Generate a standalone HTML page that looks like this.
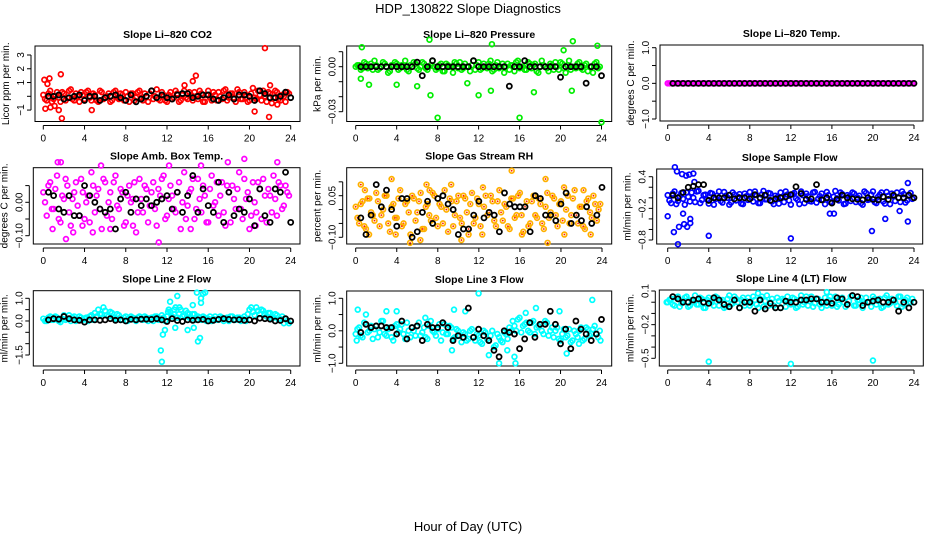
<!DOCTYPE html>
<html><head><meta charset="utf-8"><style>
body{margin:0;background:#fff}
svg{display:block;font-family:"Liberation Sans",sans-serif}
</style></head><body>
<svg id="chart" width="936" height="540" viewBox="0 0 936 540" xmlns="http://www.w3.org/2000/svg">
<text x="468" y="13" font-size="13" text-anchor="middle">HDP_130822  Slope Diagnostics</text>
<text x="468" y="531" font-size="13" text-anchor="middle">Hour of Day (UTC)</text>
</svg>
<script>
// ---- data (values per panel) ----
const co2Band=[0.1,-0.3,0.4,-0.2,0.3,-0.4,0.2,-0.1,0.5,-0.3,0.0,0.3,-0.2,0.4,-0.3,0.1,-0.4,0.3,-0.1,0.2,-0.3,0.4,-0.2,0.1,0.3,-0.4,0.2,-0.1,0.4,-0.3,0.0,0.2,-0.2,0.5,-0.3,0.1,-0.4,0.3,-0.1,0.2,-0.3,0.4,-0.2,0.1,0.3,-0.2,0.2,-0.4,0.4,-0.3,0.1,0.3,-0.2,0.5,-0.1,0.2,-0.4,0.3,-0.2,0.1,-0.3,0.6,-0.2,0.1,0.4,-0.4,0.2,-0.1,0.3,-0.3,0.0,0.3];
const co2BandB=[-0.2,0.2,-0.4,0.0,-0.1,0.3,-0.3,0.4,-0.2,0.2,-0.4,0.1,0.3,-0.1,0.2,-0.3,0.4,-0.2,0.0,-0.4,0.3,-0.1,0.2,-0.3,0.0,0.2,-0.3,0.3,-0.1,0.2,-0.4,0.4,0.0,-0.2,0.3,-0.3,0.1,-0.2,0.4,-0.4,0.1,-0.1,0.3,-0.3,0.0,0.4,-0.4,0.1,-0.1,0.3,-0.3,0.0,0.4,-0.3,0.2,-0.1,0.5,-0.2,0.3,-0.4,0.2,-0.1,0.4,-0.3,0.0,0.3,-0.5,0.4,-0.2,0.1,-0.4,0.2];
const co2Out=[[0.1,1.2],[0.2,-0.9],[0.6,1.3],[0.7,-0.8],[1.5,-1.0],[1.7,1.6],[1.8,-1.6],[4.7,-1.0],[13.7,0.8],[14.5,1.1],[14.8,1.5],[21.5,3.5],[21.9,-1.5],[20.5,-1.1],[22.0,0.8],[22.7,-0.6],[0.4,0.9],[1.1,-0.7]];
const co2Black=[0.0,0.0,0.1,-0.2,-0.1,0.0,0.1,-0.3,0.0,0.0,-0.3,-0.1,0.0,0.1,-0.1,-0.3,0.1,-0.4,-0.2,0.0,0.4,-0.1,0.1,-0.1,-0.2,0.1,0.2,0.2,-0.1,0.0,0.1,0.1,-0.2,-0.3,-0.1,0.1,-0.2,0.1,0.1,0.0,-0.3,0.4,0.2,-0.1,-0.1,0.0,0.3,-0.1];

const presBand=[0,0.001,-0.001,0.002,0,-0.002,0.001,-0.001,0.003,0,-0.003,0.001,0.002,-0.001,0,-0.002,0.001,0.003,-0.001,0,0.002,-0.002,0.001,0,-0.001,0.002,-0.003,0.001,0,0.003,-0.001,-0.002,0.002,0,0.001,-0.002,0.003,-0.001,0,0.002,-0.003,0.001,-0.001,0.002,0,-0.002,0.001,0.003,-0.001,0,-0.002,0.002,0.001,-0.003,0,0.001,-0.001,0.002,-0.002,0,0.003,-0.001,0.001,-0.002,0,0.002,-0.001,0.001,-0.003,0,0.002,-0.001];
const presBandB=[0.001,-0.002,0.003,-0.001,0.002,0.004,-0.002,0,0.002,-0.004,0.001,0.003,-0.002,0.001,0.004,-0.003,0,0.002,-0.002,0.003,-0.001,0,0.004,-0.002,0.001,-0.003,0.002,0,-0.004,0.002,0.003,-0.001,0,-0.003,0.004,0.001,-0.002,0.002,-0.001,0.004,-0.002,0.003,0,-0.004,0.002,0.001,-0.003,0.004,0,-0.002,0.003,-0.001,0.002,-0.004,0.004,0,-0.003,0.001,0.003,-0.002,0.002,-0.004,0.004,0,-0.001,0.003,-0.002,0.002,0,-0.004,0.003,0];
const presOut=[[0.6,0.013],[0.5,-0.008],[1.3,-0.012],[7.2,0.018],[7.3,-0.019],[8,-0.034],[16,-0.034],[24,-0.037],[13.3,0.015],[13.2,-0.016],[21.2,0.017],[23.6,0.014],[20.3,0.011],[10.9,-0.011],[6.0,-0.013],[21.1,-0.016],[4.0,-0.012],[17.4,-0.017],[12.0,-0.019]];
const presBlack=[0,0,0,0,0,0,0,0,0,0,0,0.003,-0.006,0,0.004,0,0,0,0,0,0,0,0.004,0,0,0,0,0,0,-0.013,0,0,0.004,0,0,0,0,0,0,-0.007,0,0,0,0,-0.011,0,0,-0.006];

const tempBand=[0,0,0,0,0,0,0,0,0,0,0,0,0,0,0,0,0,0,0,0,0,0,0,0,0,0,0,0,0,0,0,0,0,0,0,0,0,0,0,0,0,0,0,0,0,0,0,0,0,0,0,0,0,0,0,0,0,0,0,0,0,0,0,0,0,0,0,0,0,0,0,0];
const tempBandB=[0,0,0,0,0,0,0,0,0,0,0,0,0,0,0,0,0,0,0,0,0,0,0,0,0,0,0,0,0,0,0,0,0,0,0,0,0,0,0,0,0,0,0,0,0,0,0,0,0,0,0,0,0,0,0,0,0,0,0,0,0,0,0,0,0,0,0,0,0,0,0,0];
const tempOut=[];
const tempBlack=[0,0,0,0,0,0,0,0,0,0,0,0,0,0,0,0,0,0,0,0,0,0,0,0,0,0,0,0,0,0,0,0,0,0,0,0,0,0,0,0,0,0,0,0,0,0,0,0];

const ambBand=[0.03,-0.04,0.06,-0.02,0.08,-0.06,0.01,0.05,-0.07,0.03,-0.01,0.07,-0.05,0.02,0.09,-0.03,0.04,-0.08,0.06,0.0,-0.05,0.08,-0.02,0.03,-0.06,0.05,0.01,-0.09,0.07,-0.03,0.04,-0.01,0.06,-0.07,0.02,0.08,-0.04,0.05,-0.02,0.03,-0.08,0.09,-0.01,0.04,-0.05,0.07,-0.03,0.02,-0.06,0.08,0.0,-0.04,0.06,-0.07,0.03,0.05,-0.02,0.09,-0.05,0.01,-0.08,0.06,-0.03,0.04,0.07,-0.06,0.02,0.08,-0.04,0.05,-0.01,0.03];
const ambBandB=[0.0,0.05,-0.02,0.04,-0.05,0.02,0.07,-0.03,0.01,0.06,-0.04,0.03,0.0,-0.06,0.05,0.02,-0.02,0.07,-0.04,0.03,0.06,-0.01,0.04,-0.07,0.02,0.0,0.06,-0.03,0.01,0.05,-0.06,0.03,-0.02,0.04,0.07,-0.05,0.01,0.02,-0.03,0.06,0.0,-0.05,0.03,0.07,-0.02,0.01,0.05,-0.06,0.04,-0.01,0.06,0.02,-0.03,0.05,-0.06,0.01,0.04,-0.02,0.07,0.03,-0.04,0.0,0.06,-0.05,0.02,0.04,-0.03,0.01,0.06,-0.02,0.05,0.02];
const ambOut=[[0.9,-0.08],[1.4,0.12],[2.2,-0.11],[2.9,-0.09],[4.8,-0.09],[5.6,0.11],[11.2,-0.12],[14.3,-0.08],[15.3,0.11],[19.5,0.13],[20.6,-0.07],[22.7,0.12],[1.7,0.12],[8.7,-0.07],[12.2,0.11],[17.9,0.12],[6.5,-0.08],[3.8,-0.07]];
const ambBlack=[0.03,0.02,-0.02,-0.03,0.02,-0.04,-0.04,0.05,0.02,0.0,-0.02,-0.03,-0.02,-0.08,0.01,0.03,-0.03,0.01,-0.01,0.01,-0.01,0.0,0.01,0.02,-0.02,0.03,-0.03,0.02,0.08,-0.03,0.04,-0.01,-0.03,0.06,-0.06,0.03,-0.04,-0.02,-0.03,0.01,-0.07,0.04,-0.04,-0.06,0.04,0.03,0.09,-0.06];

const rhBand=[0.01,-0.05,0.03,-0.07,0.04,-0.02,0.06,-0.06,0.0,0.05,-0.08,0.02,-0.03,0.07,-0.05,0.03,-0.09,0.04,-0.01,0.06,-0.07,0.02,-0.04,0.05,-0.06,0.01,0.07,-0.08,0.03,-0.02,0.05,-0.05,0.04,-0.07,0.06,-0.03,0.02,-0.09,0.05,-0.01,0.03,-0.06,0.07,-0.04,0.01,-0.07,0.04,-0.02,0.06,-0.08,0.03,-0.05,0.05,-0.03,0.02,-0.07,0.06,-0.01,0.04,-0.06,0.03,-0.09,0.05,-0.02,0.07,-0.05,0.01,-0.07,0.04,-0.03,0.02,0.0];
const rhBandB=[-0.03,0.02,-0.06,0.04,-0.01,-0.04,0.03,-0.02,0.05,-0.05,0.01,-0.03,0.04,-0.06,0.02,-0.01,0.05,-0.04,0.03,-0.07,0.01,-0.02,0.06,-0.03,0.02,-0.05,0.0,0.04,-0.06,0.03,-0.03,0.05,-0.01,0.02,-0.05,0.04,-0.06,0.01,-0.02,0.05,-0.04,0.03,-0.01,0.02,-0.06,0.04,-0.03,0.05,-0.02,0.01,-0.06,0.03,-0.02,0.04,-0.05,0.01,-0.03,0.05,-0.02,0.02,-0.04,0.0,-0.05,0.04,-0.02,0.01,-0.06,0.03,-0.01,0.05,-0.04,0.02];
const rhOut=[[0.5,0.09],[0.9,0.07],[3.5,0.11],[5.3,-0.12],[6.9,0.09],[7.2,0.07],[9.3,0.09],[10.3,-0.11],[11.0,-0.09],[15.2,0.14],[18.5,0.11],[18.7,-0.12],[20.3,0.08],[22.9,-0.09],[3.9,-0.09],[16.2,-0.09],[6.3,-0.11],[22.2,0.07],[1.3,-0.09],[12.4,0.08]];
const rhBlack=[-0.03,-0.09,-0.02,0.09,0.01,0.07,0.0,-0.06,0.04,0.04,-0.1,-0.08,-0.01,0.03,-0.05,0.04,0.05,0.02,0.0,-0.09,-0.07,-0.07,-0.02,0.03,-0.03,-0.01,-0.02,-0.08,0.06,0.02,0.01,0.01,0.01,-0.08,0.05,0.04,-0.02,-0.02,-0.04,0.02,0.06,-0.05,-0.02,-0.04,0.01,-0.05,-0.02,0.08];

const sampBand=[0.05,-0.1,0.12,-0.06,0.09,-0.13,0.02,0.1,-0.08,0.13,-0.04,0.06,-0.11,0.08,-0.02,0.12,-0.09,0.04,-0.13,0.1,-0.05,0.07,-0.12,0.03,0.11,-0.07,0.05,-0.1,0.13,-0.03,0.08,-0.12,0.01,0.1,-0.08,0.06,-0.13,0.09,-0.04,0.12,-0.1,0.03,-0.07,0.11,-0.02,0.08,-0.12,0.05,-0.09,0.13,-0.05,0.07,-0.11,0.02,0.1,-0.08,0.04,-0.13,0.09,-0.03,0.12,-0.1,0.06,-0.07,0.11,-0.12,0.03,0.1,-0.08,0.07,-0.05,0.09];
const sampBandB=[-0.05,0.08,-0.12,0.03,-0.02,0.1,-0.07,0.0,0.12,-0.1,0.05,-0.03,0.09,-0.13,0.04,-0.06,0.11,0.0,-0.09,0.06,0.02,-0.11,0.08,-0.04,0.0,0.12,-0.1,0.06,-0.03,0.09,-0.07,0.04,-0.11,0.02,0.12,-0.05,0.07,-0.01,-0.12,0.05,0.08,-0.06,0.1,-0.09,0.03,-0.04,0.11,-0.08,0.02,-0.01,0.1,-0.12,0.05,-0.06,0.08,0.0,-0.1,0.12,-0.04,0.06,-0.08,0.02,0.1,-0.11,0.04,0.08,-0.06,0.0,0.12,-0.09,0.05,-0.02];
const sampOut=[[0.0,-0.35],[0.6,-0.65],[0.7,0.58],[0.9,0.5],[1.0,-0.88],[1.1,-0.55],[1.4,0.45],[1.5,-0.3],[1.6,-0.5],[1.8,0.42],[1.9,-0.55],[2.1,0.44],[2.2,-0.48],[2.2,-0.4],[2.5,0.46],[2.6,0.3],[4.0,-0.72],[12.0,-0.77],[19.9,-0.63],[21.2,-0.4],[23.4,-0.45],[23.4,0.28],[15.8,-0.3],[16.2,-0.3],[22.6,-0.25]];
const sampBlack=[0.05,0.0,0.1,0.2,0.22,0.25,0.25,-0.05,0.0,0.0,0.0,0.05,-0.02,0.0,0.0,-0.02,0.06,0.0,0.05,-0.05,-0.02,0.0,0.02,0.06,0.21,0.08,-0.03,-0.02,0.25,-0.04,0.0,-0.1,-0.03,0.05,0.0,-0.02,-0.03,-0.04,0.0,-0.03,-0.04,0.02,-0.03,0.05,0.0,0.0,0.05,0.0];

const l2Band=[0.1,0.0,0.2,0.05,0.15,-0.05,0.25,0.1,0.0,0.2,0.05,0.15,0.1,0.0,0.25,0.35,0.5,0.3,0.45,0.2,0.35,0.1,0.25,0.05,0.2,0.1,0.15,0.0,0.2,0.05,0.15,0.1,0.0,0.2,0.1,0.15,0.2,0.4,0.3,0.15,0.5,0.25,0.35,0.1,0.3,0.2,0.05,0.15,0.1,0.0,0.2,0.05,0.15,0.1,0.0,0.2,0.05,0.15,0.1,0.0,0.5,0.4,0.6,0.3,0.45,0.2,0.35,0.15,0.25,0.1,-0.1,0.0];
const l2BandB=[0.0,0.15,0.05,0.2,0.0,0.1,0.05,0.25,0.15,0.0,0.2,0.05,0.15,0.2,0.05,0.2,0.3,0.6,0.25,0.4,0.15,0.3,0.05,0.15,0.0,0.2,0.05,0.15,0.1,0.2,0.0,0.15,0.2,0.05,0.25,0.0,0.5,0.2,0.6,0.3,0.2,0.45,0.15,0.3,0.05,0.15,0.2,0.0,0.2,0.1,0.05,0.2,0.0,0.15,0.2,0.05,0.15,0.0,0.2,0.3,0.6,0.25,0.45,0.5,0.3,0.35,0.1,0.3,0.05,0.2,0.1,-0.1];
const l2Out=[[11.4,-1.3],[11.5,-1.8],[11.6,-0.6],[11.8,-0.4],[12.3,0.85],[12.7,0.5],[13.0,1.1],[13.2,0.6],[12.8,-0.3],[14.0,-0.4],[14.5,0.7],[14.6,-0.3],[14.9,1.25],[15.0,-0.9],[15.2,-0.75],[15.3,1.0],[15.5,1.2],[15.3,0.8],[15.7,1.25],[12.1,0.4],[14.2,0.3]];
const l2Black=[0.05,0.1,0.08,0.2,0.1,0.05,0.03,-0.05,0.05,0.05,0.03,0.05,0.1,0.03,0.05,0.0,0.07,0.05,0.08,0.08,0.07,0.1,0.05,-0.02,0.1,0.02,-0.02,0.05,0.03,0.05,0.07,0.0,0.03,0.07,0.1,0.07,0.05,0.06,0.03,0.05,0.0,0.12,0.1,0.08,0.0,0.02,0.1,0.0];

const l3Band=[-0.1,0.1,-0.2,0.2,0.0,-0.25,0.15,-0.05,0.3,-0.15,0.1,-0.3,0.2,0.05,-0.1,0.25,-0.2,0.0,0.15,-0.15,0.1,-0.25,0.3,-0.05,0.05,-0.3,0.2,-0.1,0.1,-0.2,0.0,-0.35,-0.1,-0.25,0.05,-0.3,-0.15,-0.4,-0.05,-0.3,0.0,-0.45,-0.2,-0.35,-0.1,0.1,0.3,0.0,0.4,0.15,0.25,-0.05,0.3,0.1,0.2,-0.1,0.25,0.0,-0.2,0.1,-0.3,0.05,-0.15,-0.35,0.0,-0.2,0.1,-0.25,0.05,-0.1,0.15,-0.2];
const l3BandB=[0.05,-0.15,0.25,-0.05,0.15,0.05,-0.2,0.3,-0.1,0.05,-0.2,0.15,-0.05,0.2,-0.25,0.0,0.1,-0.15,0.25,-0.05,-0.2,0.15,0.0,-0.15,0.2,-0.05,-0.1,0.15,-0.25,0.05,-0.15,-0.05,-0.3,0.0,-0.2,-0.1,-0.35,0.0,-0.25,-0.15,-0.5,-0.1,-0.3,-0.05,-0.25,0.0,0.15,0.35,-0.05,0.2,0.0,0.25,-0.1,0.15,0.0,0.3,-0.15,0.1,0.0,-0.25,-0.1,-0.2,0.05,-0.3,-0.1,0.0,-0.3,0.1,-0.15,0.05,-0.1,0.0];
const l3Out=[[0.2,0.65],[0.1,-0.3],[3.0,0.6],[4.0,0.6],[9.6,0.65],[10.7,0.6],[12.0,1.15],[9.4,-0.6],[13.0,-0.75],[14.0,-1.0],[15.5,-0.8],[15.6,-1.0],[14.8,-0.6],[17.6,0.7],[19.9,0.6],[20.6,-0.7],[23.1,0.95],[23.9,-0.3],[1.0,0.5],[6.8,0.4],[16.6,0.55],[21.8,-0.4]];
const l3Black=[-0.05,0.2,0.1,0.15,0.15,0.1,0.1,-0.1,0.3,-0.25,0.1,0.15,-0.3,0.2,0.1,0.1,0.25,0.1,-0.3,-0.15,-0.2,0.7,-0.2,0.05,-0.15,-0.3,-0.6,-0.8,0.0,-0.05,-0.1,-0.55,-0.25,0.25,-0.2,0.2,0.2,0.6,0.2,-0.4,0.05,-0.55,0.3,0.05,-0.1,-0.3,-0.1,0.35];

const l4Band=[0.0,0.03,-0.03,0.05,-0.01,0.04,-0.04,0.02,0.06,-0.02,0.03,-0.05,0.04,0.0,0.05,-0.03,0.02,-0.04,0.06,-0.01,0.03,-0.05,0.04,0.01,-0.03,0.05,-0.02,0.03,-0.04,0.06,0.0,-0.03,0.04,-0.05,0.02,0.05,-0.02,0.03,-0.04,0.06,0.0,-0.03,0.05,-0.01,0.03,-0.05,0.04,0.02,-0.03,0.05,-0.02,0.04,-0.04,0.01,0.06,-0.03,0.02,-0.05,0.04,0.0,0.05,-0.02,0.03,-0.04,0.06,-0.01,0.02,-0.03,0.05,-0.02,0.04,0.0];
const l4BandB=[0.02,-0.02,0.04,-0.04,0.01,0.05,-0.03,0.0,-0.02,0.04,-0.05,0.02,0.0,-0.03,0.04,0.01,-0.05,0.03,-0.02,0.05,0.0,0.02,-0.03,0.04,-0.01,0.02,-0.05,0.05,0.01,-0.03,0.03,-0.05,0.01,0.03,-0.04,0.0,0.04,-0.05,0.02,-0.02,0.05,0.01,-0.04,0.03,-0.02,0.0,-0.03,0.05,0.01,-0.04,0.03,0.0,-0.02,0.05,-0.03,0.02,0.04,-0.01,0.0,-0.04,0.03,0.01,-0.05,0.04,-0.02,0.03,0.0,0.05,-0.04,0.02,-0.01,0.03];
const l4Out=[[4.0,-0.53],[12.0,-0.55],[20.0,-0.52],[8.8,0.08],[15.5,0.09],[-0.1,0.0]];
const l4Black=[0.05,0.03,0.0,0.0,0.02,0.03,0.0,-0.01,0.04,0.02,-0.02,-0.04,0.02,-0.05,0.0,0.0,-0.08,0.02,-0.06,-0.01,-0.05,-0.05,0.01,0.0,0.0,0.02,0.02,0.03,0.03,0.0,0.0,-0.01,0.04,0.03,-0.02,0.06,0.05,-0.03,0.0,0.01,0.02,0.0,0.0,0.02,-0.08,0.0,-0.05,0.0];

// ---- layout ----
const panels=[
 {name:"co2",title:"Slope Li\u2013820 CO2",ylab:"Licor ppm per min.",col:"#ff0000",bands:[co2Band,co2BandB],out:co2Out,black:co2Black,L:35,R:300,T:46,B:121.5,x0:43.3,x1:290.7,yr:[0,96.3,3,55],ticks:[-1,0,1,2,3],labs:[[-1,"\u22121"],[1,"1"],[2,"2"],[3,"3"]]},
 {name:"pressure",title:"Slope Li\u2013820 Pressure",ylab:"kPa per min.",col:"#00ee00",bands:[presBand,presBandB],out:presOut,black:presBlack,L:346.7,R:611.7,T:46,B:121.5,x0:355.7,x1:601.5,yr:[0,66.7,-0.03,111.7],ticks:[0.01,0,-0.01,-0.02,-0.03],labs:[[0,"0.00"],[-0.03,"\u22120.03"]]},
 {name:"temp",title:"Slope Li\u2013820 Temp.",ylab:"degrees C per min.",col:"#ff00ff",bands:[tempBand,tempBandB],out:tempOut,black:tempBlack,L:660,R:923,T:45,B:121,x0:667.7,x1:914,yr:[1,47.7,-1,119],ticks:[1,0.5,0,-0.5,-1],labs:[[1,"1.0"],[0,"0.0"],[-1,"\u22121.0"]]},
 {name:"amb-box-temp",title:"Slope Amb. Box Temp.",ylab:"degrees C per min.",col:"#ff00ff",bands:[ambBand,ambBandB],out:ambOut,black:ambBlack,L:33.3,R:300,T:167.7,B:244,x0:43.3,x1:290.7,yr:[0,202.3,-0.1,235.7],ticks:[0.05,0,-0.05,-0.1],labs:[[0,"0.00"],[-0.1,"\u22120.10"]]},
 {name:"gas-stream-rh",title:"Slope Gas Stream RH",ylab:"percent per min.",col:"#ffb000",inner:"#ff2000",bands:[rhBand,rhBandB],out:rhOut,black:rhBlack,L:346.7,R:611.7,T:167.7,B:244,x0:355.7,x1:602,yr:[0.05,195.7,-0.1,237.3],ticks:[0.1,0.05,0,-0.05,-0.1],labs:[[0.05,"0.05"],[-0.1,"\u22120.10"]]},
 {name:"sample-flow",title:"Slope Sample Flow",ylab:"ml/min per min.",col:"#0000ff",bands:[sampBand,sampBandB],out:sampOut,black:sampBlack,L:656.7,R:922.7,T:169,B:244,x0:667.7,x1:914,yr:[0.4,176.7,-0.8,240],ticks:[0.4,0.2,0,-0.2,-0.4,-0.6,-0.8],labs:[[0.4,"0.4"],[-0.2,"\u22120.2"],[-0.8,"\u22120.8"]]},
 {name:"line2-flow",title:"Slope Line 2 Flow",ylab:"ml/min per min.",col:"#00ffff",bands:[l2Band,l2BandB],out:l2Out,black:l2Black,L:33.3,R:300,T:290.7,B:366,x0:43.3,x1:290.7,yr:[1,298.3,-1.5,355],ticks:[1,0.5,0,-0.5,-1,-1.5],labs:[[1,"1.0"],[0,"0.0"],[-1.5,"\u22121.5"]]},
 {name:"line3-flow",title:"Slope Line 3 Flow",ylab:"ml/min per min.",col:"#00ffff",bands:[l3Band,l3BandB],out:l3Out,black:l3Black,L:346.7,R:611.7,T:291,B:366,x0:355.7,x1:601.5,yr:[1,298.3,-1,363.3],ticks:[1,0.5,0,-0.5,-1],labs:[[1,"1.0"],[0,"0.0"],[-1,"\u22121.0"]]},
 {name:"line4-flow",title:"Slope Line 4 (LT) Flow",ylab:"ml/min per min.",col:"#00ffff",bands:[l4Band,l4BandB],out:l4Out,black:l4Black,L:659.3,R:923.3,T:290,B:366,x0:667.7,x1:914,yr:[0.1,291,-0.5,358.3],ticks:[0.1,0,-0.1,-0.2,-0.3,-0.4,-0.5],labs:[[0.1,"0.1"],[-0.2,"\u22120.2"],[-0.5,"\u22120.5"]]}
];
const xTicks=[0,4,8,12,16,20,24];
const NS="http://www.w3.org/2000/svg";
const svg=document.getElementById("chart");
function mk(tag,attrs,parent){const e=document.createElementNS(NS,tag);for(const k in attrs)e.setAttribute(k,attrs[k]);(parent||svg).appendChild(e);return e;}
panels.forEach(p=>{
  const g=mk("g",{});
  
  
  const xs=h=>p.x0+(h/24)*(p.x1-p.x0);
  const ys=v=>p.yr[1]+(v-p.yr[0])*(p.yr[3]-p.yr[1])/(p.yr[2]-p.yr[0]);
  const box=mk("rect",{x:p.L,y:p.T,width:p.R-p.L,height:p.B-p.T,fill:"none",stroke:"#000","stroke-width":1},g);
  
  
  const t=mk("text",{x:(p.L+p.R)/2,y:p.T-8,"font-size":10.5,"font-weight":"bold","text-anchor":"middle"},g);t.textContent=p.title;
  
  
  const yl=mk("text",{transform:`translate(${p.L-26},${(p.T+p.B)/2}) rotate(-90)`,"font-size":10,"text-anchor":"middle"},g);yl.textContent=p.ylab;
  
  
  const ay=p.B+4;
  mk("line",{x1:xs(0),x2:xs(24),y1:ay,y2:ay,stroke:"#000"},g);
  xTicks.forEach(h=>{
    mk("line",{x1:xs(h),x2:xs(h),y1:ay,y2:ay+4,stroke:"#000"},g);
    const tx=mk("text",{x:xs(h),y:ay+16,"font-size":10,"text-anchor":"middle"},g);tx.textContent=h;
    
    
  });
  const ax=p.L-4;
  mk("line",{x1:ax,x2:ax,y1:ys(p.ticks[0]),y2:ys(p.ticks[p.ticks.length-1]),stroke:"#000"},g);
  p.ticks.forEach(v=>mk("line",{x1:ax-4,x2:ax,y1:ys(v),y2:ys(v),stroke:"#000"},g));
  p.labs.forEach(([v,s])=>{
    const ty=mk("text",{transform:`translate(${ax-7},${ys(v)}) rotate(-90)`,"font-size":10,"text-anchor":"middle"},g);ty.textContent=s;
    
    
  });
  let pts=[];
  p.bands.forEach((b,k)=>{const n=b.length;pts=pts.concat(b.map((v,i)=>[(i+k*0.5)*24/n,v]));});
  pts=pts.concat(p.out);
  pts.forEach(([h,v])=>{
    const c=mk("circle",{cx:xs(h),cy:ys(v),r:2.4,fill:"none",stroke:p.col,"stroke-width":1.7},g);
    
    
    if(p.inner){mk("circle",{cx:xs(h),cy:ys(v),r:0.9,fill:p.inner},g);}
  });
  p.black.forEach((v,i)=>{
    const c=mk("circle",{cx:xs(0.5+i*0.5),cy:ys(v),r:2.5,fill:"none",stroke:"#000","stroke-width":1.8},g);
    
    
  });
});
</script>
</body></html>
